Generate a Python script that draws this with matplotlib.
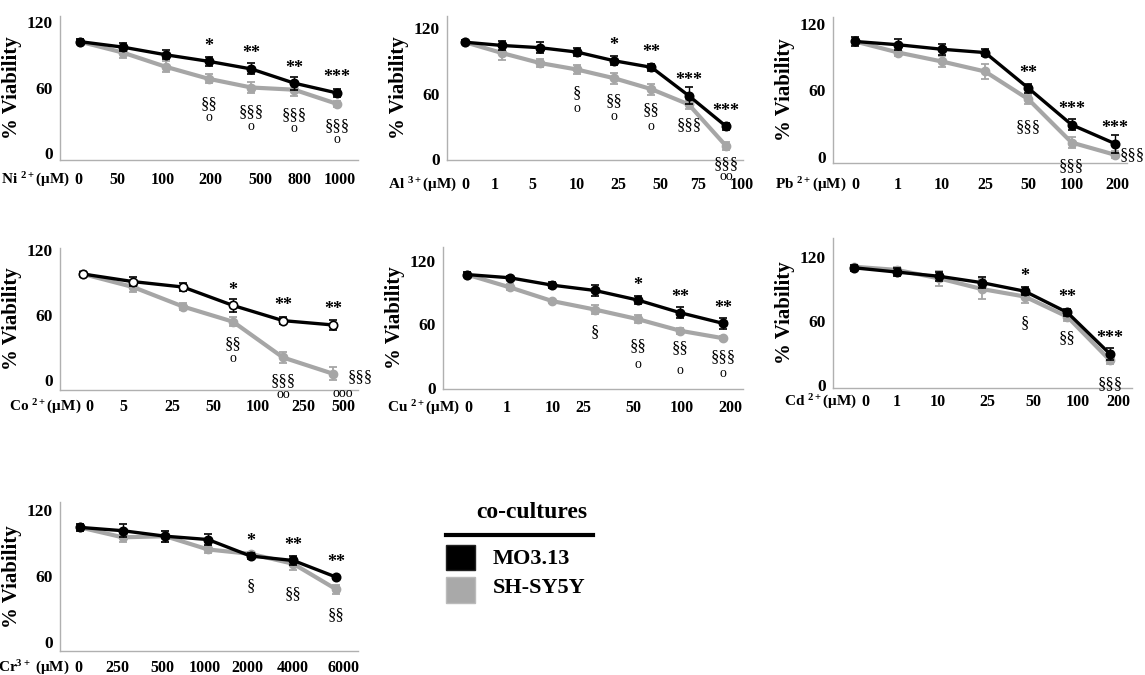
import matplotlib
matplotlib.use('Agg')
import matplotlib.pyplot as plt
from matplotlib.patches import Rectangle
from matplotlib.lines import Line2D

plt.rcParams['font.family'] = ['Liberation Serif', 'DejaVu Serif']
plt.rcParams['font.weight'] = 'bold'
plt.rcParams['mathtext.fontset'] = 'custom'
plt.rcParams['mathtext.rm'] = 'Liberation Serif:bold'
plt.rcParams['mathtext.bf'] = 'Liberation Serif:bold'
plt.rcParams['mathtext.it'] = 'Liberation Serif:bold'

W, H = 1145, 675
BLACK = '#000000'
GRAY = '#a6a6a6'

# ---- data ----
ni_labels = ['0', '50', '100', '200', '500', '800', '1000']
ni_mo = [102, 97, 90, 84, 77, 64, 55]
ni_mo_err = [2, 4, 4, 4, 5, 6, 4]
ni_sh = [102, 92, 79, 68, 60, 58, 45]
ni_sh_err = [2, 5, 5, 4, 5, 6, 3]

al_labels = ['0', '1', '5', '10', '25', '50', '75', '100']
al_mo = [107, 104, 102, 98, 90, 84, 58, 30]
al_mo_err = [2, 4, 5, 4, 4, 3, 8, 3]
al_sh = [107, 97, 88, 82, 74, 64, 50, 12]
al_sh_err = [2, 6, 4, 4, 5, 5, 4, 4]

pb_labels = ['0', '1', '10', '25', '50', '100', '200']
pb_mo = [104, 101, 97, 94, 62, 29, 12]
pb_mo_err = [4, 5, 5, 3, 4, 5, 8]
pb_sh = [104, 94, 86, 77, 52, 13, 2]
pb_sh_err = [2, 3, 5, 7, 4, 5, 3]

co_labels = ['0', '5', '25', '50', '100', '250', '500']
co_mo = [98, 91, 86, 69, 55, 51]
co_mo_err = [2, 4, 4, 6, 3, 5]
co_sh = [98, 86, 68, 54, 21, 6]
co_sh_err = [3, 5, 3, 4, 5, 6]

cu_labels = ['0', '1', '10', '25', '50', '100', '200']
cu_mo = [107, 104, 97, 92, 83, 71, 61]
cu_mo_err = [2, 2, 3, 5, 4, 5, 5]
cu_sh = [107, 95, 82, 74, 65, 54, 47]
cu_sh_err = [2, 3, 2, 4, 4, 3, 2]

cd_labels = ['0', '1', '10', '25', '50', '100', '200']
cd_mo = [110, 106, 102, 96, 88, 68, 29]
cd_mo_err = [3, 4, 4, 5, 4, 3, 6]
cd_sh = [111, 108, 100, 90, 83, 64, 23]
cd_sh_err = [2, 3, 7, 9, 6, 4, 3]

cr_labels = ['0', '250', '500', '1000', '2000', '4000', '6000']
cr_mo = [104, 101, 96, 93, 78, 74, 59]
cr_mo_err = [3, 6, 5, 5, 3, 4, 2]
cr_sh = [104, 95, 96, 84, 80, 71, 48]
cr_sh_err = [3, 4, 5, 3, 2, 6, 4]

# significance marks: (point index, stars, sections, circles)
ni_sig = [(3, '*', '§§', 'o'), (4, '**', '§§§', 'o'), (5, '**', '§§§', 'o'), (6, '***', '§§§', 'o')]
al_sig = [(3, '', '§', 'o'), (4, '*', '§§', 'o'), (5, '**', '§§', 'o'), (6, '***', '§§§', ''), (7, '***', '§§§', 'oo')]
pb_sig = [(4, '**', '§§§', ''), (5, '***', '§§§', ''), (6, '***', '§§§', '')]
co_sig = [(3, '*', '§§', 'o'), (4, '**', '§§§', 'oo'), (5, '**', '§§§', 'ooo')]
cu_sig = [(3, '', '§', ''), (4, '*', '§§', 'o'), (5, '**', '§§', 'o'), (6, '**', '§§§', 'o')]
cd_sig = [(4, '*', '§', ''), (5, '**', '§§', ''), (6, '***', '§§§', '')]
cr_sig = [(4, '*', '§', ''), (5, '**', '§§', ''), (6, '**', '§§', '')]

# ---- layout (pixels) ----
panels = [
    dict(unit=r'Ni $^{2+}$(μM)', labels=ni_labels, mo=ni_mo, moe=ni_mo_err, sh=ni_sh, she=ni_sh_err, sig=ni_sig,
         box=(60, 358, 16, 160), p=(80, 337), ylim=(-6.4, 125.5), lx=[78, 117, 163, 210, 260, 300, 340], ly=180,
         sdy={6: -22}),
    dict(unit=r'Al $^{3+}$(μM)', labels=al_labels, mo=al_mo, moe=al_mo_err, sh=al_sh, she=al_sh_err, sig=al_sig,
         box=(447, 743, 16, 160), p=(465, 726), ylim=(-0.9, 131), lx=[465, 495, 532, 577, 618, 660, 698, 742], ly=185,
         sdy={3: -24, 4: -23, 5: -21, 6: -21, 7: -18}, cdy={3: -39, 4: -38, 5: -37, 7: -31}),
    dict(unit=r'Pb $^{2+}$(μM)', labels=pb_labels, mo=pb_mo, moe=pb_mo_err, sh=pb_sh, she=pb_sh_err, sig=pb_sig,
         box=(833, 1127, 17, 163), p=(855, 1115), ylim=(-5.4, 126), lx=[855, 898, 942, 985, 1028, 1072, 1117], ly=185,
         sdy={4: -28, 5: -24, 6: 0}, sdx={6: 17}),
    dict(unit=r'Co $^{2+}$(μM)', labels=co_labels, mo=co_mo, moe=co_mo_err, sh=co_sh, she=co_sh_err, sig=co_sig,
         box=(60, 358, 248, 390), p=(83, 333), ylim=(-9, 122), lx=[89, 123, 172, 213, 258, 303, 343], ly=407,
         sdy={3: -22, 4: -24, 5: -3}, sdx={5: 27}, cdy={3: -37, 4: -37, 5: -20}, cdx={5: 10}, open_mo=True),
    dict(unit=r'Cu $^{2+}$(μM)', labels=cu_labels, mo=cu_mo, moe=cu_mo_err, sh=cu_sh, she=cu_sh_err, sig=cu_sig,
         box=(443, 743, 247, 389), p=(467, 723), ylim=(-0.9, 133), lx=[468, 507, 553, 583, 633, 682, 730], ly=408,
         sdy={3: -23, 4: -27, 5: -17, 6: -19}, cdy={4: -45, 5: -40, 6: -35}),
    dict(unit=r'Cd $^{2+}$(μM)', labels=cd_labels, mo=cd_mo, moe=cd_mo_err, sh=cd_sh, she=cd_sh_err, sig=cd_sig,
         box=(833, 1132, 238, 388), p=(854, 1110), ylim=(-3, 138), lx=[865, 897, 938, 987, 1033, 1078, 1118], ly=402,
         sdy={4: -27, 5: -21, 6: -24}),
    dict(unit=r'Cr$^{3+}$ (μM)', labels=cr_labels, mo=cr_mo, moe=cr_mo_err, sh=cr_sh, she=cr_sh_err, sig=cr_sig,
         box=(60, 358, 502, 651), p=(80, 336), ylim=(-8, 127), lx=[78, 117, 162, 205, 247, 293, 343], ly=668,
         sdy={4: -32, 5: -30, 6: -26}),
]

fig = plt.figure(figsize=(W / 100, H / 100), dpi=100)

for pn in panels:
    l, r, t, b = pn['box']
    ax = fig.add_axes([l / W, 1 - b / H, (r - l) / W, (b - t) / H])
    n = len(pn['mo'])
    p0, p1 = pn['p']
    d = (p1 - p0) / (n - 1)
    xs = list(range(n))
    ax.set_xlim((l - p0) / d, (r - p0) / d)
    ax.set_ylim(*pn['ylim'])

    ax.errorbar(xs, pn['sh'], yerr=pn['she'], color=GRAY, lw=3, marker='o', ms=6,
                ecolor=GRAY, elinewidth=1.3, capsize=3, capthick=1.3, zorder=2)
    mfc = 'white' if pn.get('open_mo') else BLACK
    ax.errorbar(xs, pn['mo'], yerr=pn['moe'], color=BLACK, lw=2.4, marker='o', ms=6, mfc=mfc,
                mec=BLACK, mew=1.2, ecolor=BLACK, elinewidth=1.0, capsize=3, capthick=1.0, zorder=3)

    for spine in ['top', 'right']:
        ax.spines[spine].set_visible(False)
    for spine in ['left', 'bottom']:
        ax.spines[spine].set_color('#b0b0b0')
        ax.spines[spine].set_linewidth(1.0)

    ax.set_yticks([0, 60, 120])
    ax.set_yticklabels(['0', '60', '120'], fontsize=12.5, fontweight='bold')
    ax.tick_params(axis='y', length=0, pad=5)
    ax.set_xticks([])
    ax.set_ylabel('% Viability', fontsize=15, fontweight='bold')
    ax.yaxis.set_label_coords(-38 / (r - l), 0.5)

    # concentration labels under the axis
    for lab, px in zip(pn['labels'], pn['lx']):
        fig.text(px / W, 1 - pn['ly'] / H, lab, fontsize=11.5, fontweight='bold', ha='center', va='center')
    fig.text((pn['lx'][0] - 8) / W, 1 - pn['ly'] / H, pn['unit'], fontsize=11, fontweight='bold',
             ha='right', va='center')

    sdy = pn.get('sdy', {})
    sdx = pn.get('sdx', {})
    cdy = pn.get('cdy', {})
    cdx = pn.get('cdx', {})
    for i, stars, secs, circs in pn['sig']:
        if stars:
            ax.annotate(stars, (i, pn['mo'][i]), xytext=(0, 15), textcoords='offset pixels',
                        ha='center', va='center', fontsize=13, fontweight='bold', annotation_clip=False)
        dy = sdy.get(i, -25)
        dx = sdx.get(i, 0)
        if secs:
            ax.annotate(secs, (i, pn['sh'][i]), xytext=(dx, dy), textcoords='offset pixels',
                        ha='center', va='center', fontsize=12, fontweight='normal', annotation_clip=False)
        if circs:
            ax.annotate(circs, (i, pn['sh'][i]), xytext=(cdx.get(i, dx), cdy.get(i, dy - 14)),
                        textcoords='offset pixels', ha='center', va='center', fontsize=10,
                        fontweight='normal', annotation_clip=False)

# ---- legend ----
fig.text(532 / W, 1 - 512 / H, 'co-cultures', fontsize=17, fontweight='bold', ha='center', va='center')
fig.add_artist(Line2D([446 / W, 593 / W], [1 - 535 / H, 1 - 535 / H], color='black', lw=3))
fig.add_artist(Rectangle((446 / W, 1 - 570 / H), 29 / W, 25 / H, facecolor='black', edgecolor='#222222',
                         transform=fig.transFigure))
fig.add_artist(Rectangle((446 / W, 1 - 603 / H), 29 / W, 26 / H, facecolor='#a9a9a9', edgecolor='#bbbbbb',
                         transform=fig.transFigure))
fig.text(493 / W, 1 - 559 / H, 'MO3.13', fontsize=16, fontweight='bold', ha='left', va='center')
fig.text(493 / W, 1 - 588 / H, 'SH-SY5Y', fontsize=16, fontweight='bold', ha='left', va='center')

fig.savefig('out.png', dpi=100)
